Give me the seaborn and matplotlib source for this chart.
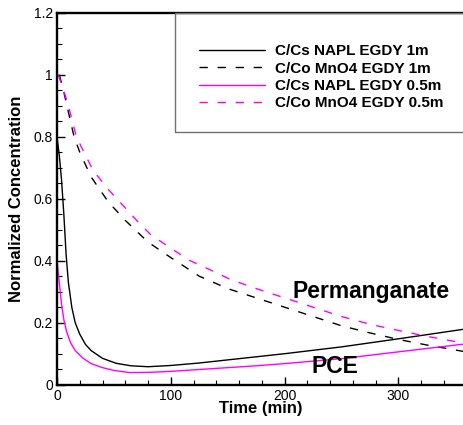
import numpy as np
import pandas as pd
import matplotlib
matplotlib.use("Agg")
import matplotlib.pyplot as plt
from matplotlib.ticker import MultipleLocator, FuncFormatter
from matplotlib.patches import Rectangle
import seaborn as sns

# ---- data ----
t_napl_1m = [0, 2, 4, 6, 8, 10, 13, 16, 20, 25, 30, 40, 52, 65, 80, 100, 125, 150, 175, 200, 250, 300, 357.6]
c_napl_1m = [0.80, 0.74, 0.66, 0.55, 0.42, 0.33, 0.25, 0.20, 0.163, 0.13, 0.11, 0.085, 0.069, 0.061, 0.058, 0.062, 0.070, 0.080, 0.090, 0.100, 0.122, 0.148, 0.179]

t_mno4_1m = [2, 5, 10, 15, 20, 30, 45, 60, 80, 100, 125, 150, 175, 200, 225, 250, 275, 300, 325, 357.6]
c_mno4_1m = [1.0, 0.96, 0.88, 0.80, 0.75, 0.67, 0.59, 0.53, 0.46, 0.41, 0.35, 0.31, 0.28, 0.25, 0.22, 0.19, 0.167, 0.146, 0.128, 0.107]

t_napl_05m = [0, 2, 4, 6, 8.5, 12, 16, 23, 30, 40, 50, 64, 82, 100, 125, 150, 175, 200, 250, 300, 357.6]
c_napl_05m = [0.40, 0.33, 0.26, 0.21, 0.17, 0.135, 0.11, 0.085, 0.068, 0.055, 0.046, 0.039, 0.040, 0.043, 0.049, 0.055, 0.061, 0.068, 0.084, 0.106, 0.131]

t_mno4_05m = [1, 5, 10, 17, 25, 32, 45, 55, 70, 82, 100, 117, 135, 152, 175, 200, 225, 250, 275, 300, 325, 357.6]
c_mno4_05m = [1.0, 0.96, 0.90, 0.80, 0.74, 0.69, 0.63, 0.59, 0.53, 0.485, 0.44, 0.40, 0.37, 0.34, 0.31, 0.28, 0.25, 0.22, 0.195, 0.175, 0.156, 0.134]

labels = ["C/Cs NAPL EGDY 1m", "C/Co MnO4 EGDY 1m", "C/Cs NAPL EGDY 0.5m", "C/Co MnO4 EGDY 0.5m"]
x_ticks = [0, 100, 200, 300]
y_ticks = [0, 0.2, 0.4, 0.6, 0.8, 1.0, 1.2]

sns.set_style("ticks")
plt.rcParams['font.family'] = ['Liberation Sans', 'DejaVu Sans']
plt.rcParams['text.color'] = 'black'
plt.rcParams['axes.labelcolor'] = 'black'
plt.rcParams['xtick.color'] = 'black'
plt.rcParams['ytick.color'] = 'black'

fig = plt.figure(figsize=(4.64, 4.25), dpi=100)
ax = fig.add_axes([57/464, (425-384.7)/425, (464-57)/464, (384.7-12.7)/425])

series = [
    (t_napl_1m, c_napl_1m, "black", "-"),
    (t_mno4_1m, c_mno4_1m, "black", "--"),
    (t_napl_05m, c_napl_05m, "#ff00ff", "-"),
    (t_mno4_05m, c_mno4_05m, "#ff00ff", "--"),
]
handles = []
for (tt, cc, col, ls), lab in zip(series, labels):
    df = pd.DataFrame({"t": tt, "c": cc})
    sns.lineplot(data=df, x="t", y="c", ax=ax, color=col, lw=1.0, label=lab, legend=False)
    line = ax.lines[-1]
    if ls == "--":
        line.set_dashes((6, 7))
    handles.append(line)

ax.set_xlim(0, 357.6)
ax.set_ylim(0, 1.2)
ax.set_xticks(x_ticks)
ax.set_yticks(y_ticks)
ax.xaxis.set_minor_locator(MultipleLocator(20))
ax.yaxis.set_minor_locator(MultipleLocator(0.05))
ax.yaxis.set_major_formatter(FuncFormatter(lambda v, p: "%g" % v))
ax.tick_params(which="major", direction="in", length=6, width=1.0, labelsize=10, pad=3,
               colors="black")
ax.tick_params(which="minor", direction="in", length=3.5, width=0.8, colors="black")
for s in ["left", "bottom", "top"]:
    ax.spines[s].set_linewidth(1.7)
    ax.spines[s].set_color("black")
ax.spines["right"].set_visible(False)

ax.set_xlabel("Time (min)", fontsize=12, fontweight="bold", color="black")
ax.set_ylabel("Normalized Concentration", fontsize=12, fontweight="bold", color="black")
ax.xaxis.set_label_coords(0.5, -0.045)
ax.yaxis.set_label_coords(-0.082, 0.5)

# legend box
box = Rectangle((0.29, 0.679), 1.0, 0.321, transform=ax.transAxes, fill=False,
                edgecolor="#707070", lw=1.0, clip_on=False, zorder=3)
ax.add_patch(box)
leg = ax.legend(handles, labels, loc="upper left", bbox_to_anchor=(0.349, 0.915),
                frameon=False, prop={"weight": "bold", "size": 11},
                handlelength=4.3, handletextpad=0.65, labelspacing=0.22, borderpad=0,
                borderaxespad=0)
for txt in leg.get_texts():
    txt.set_color("black")

ax.text(206.5, 0.28, "Permanganate", fontsize=16.5, fontweight="bold", ha="left",
        va="baseline", color="black")
ax.text(224, 0.038, "PCE", fontsize=16.5, fontweight="bold", ha="left",
        va="baseline", color="black")

fig.savefig("out.png", dpi=100)
